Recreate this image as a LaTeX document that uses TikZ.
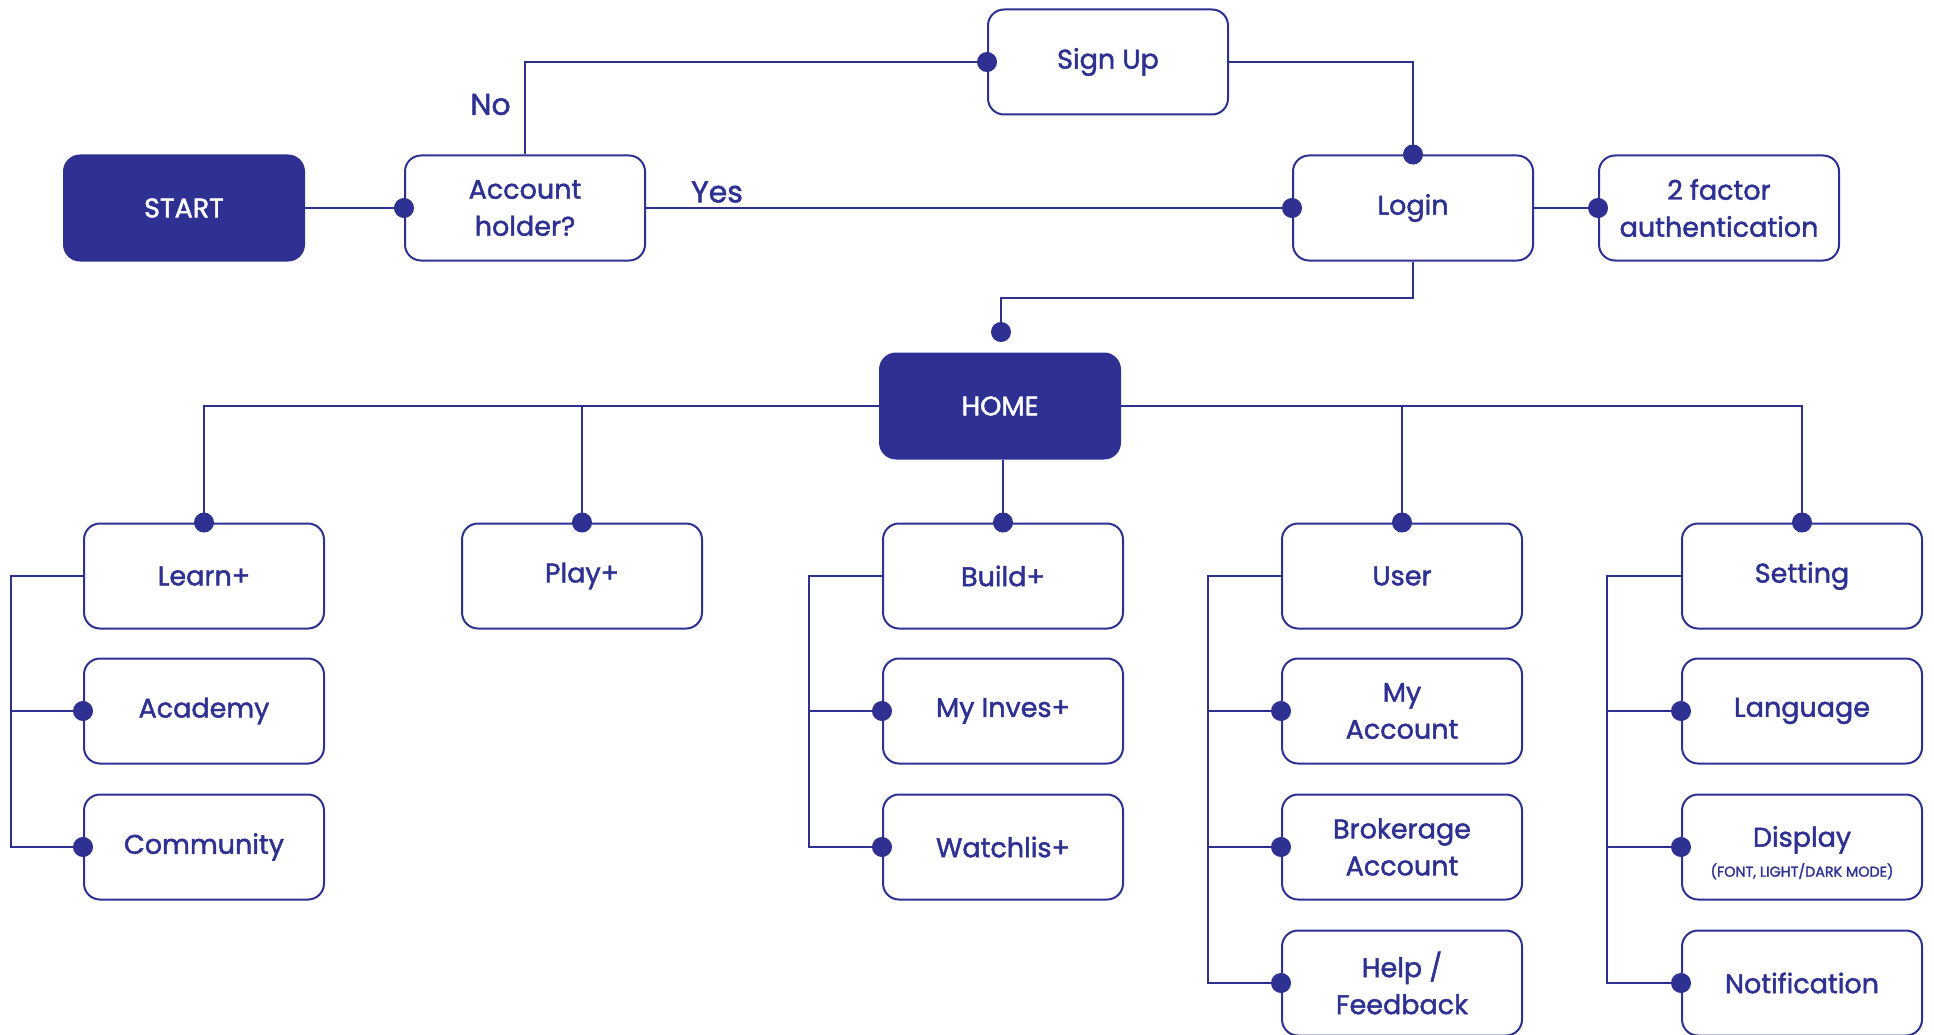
\documentclass[tikz,border=0pt]{standalone}
\usepackage{fontspec}
\setmainfont{Poppins}[BoldFont=Poppins, BoldFeatures={FakeBold=1.6}]
\usetikzlibrary{arrows.meta}
\definecolor{navy}{RGB}{46,49,146}

\begin{document}
\begin{tikzpicture}[
  x=1pt, y=-1pt,
  box/.style={draw=navy, line width=2pt, rounded corners=16pt, fill=white,
    minimum width=240pt, minimum height=105pt, text=navy, align=center,
    font=\fontsize{27}{37}\selectfont\bfseries},
  mainbox/.style={box, fill=navy, text=white},
  wire/.style={draw=navy, line width=2pt},
  link/.style={wire, -{Circle[length=20pt]}, shorten >=-10pt},
  tag/.style={text=navy, font=\fontsize{30}{34}\selectfont\bfseries}
]
\useasboundingbox (0,0) rectangle (1934,1035);

% Entry and login flow
\node[mainbox] (start) at (184,208) {START};
\node[box] (acct) at (525,208) {Account\\holder?};
\node[box] (signup) at (1108,62) {Sign Up};
\node[box] (login) at (1413,208) {Login};
\node[box] (tfa) at (1719,208) {2 factor\\authentication};
\node[mainbox] (home) at (1000,406) {HOME};
\coordinate (homein) at (1001,332);

% Main sections
\node[box] (learn) at (204,576) {Learn+};
\node[box] (play) at (582,576) {Play+};
\node[box] (build) at (1003,576) {Build+};
\node[box] (user) at (1402,576) {User};
\node[box] (setting) at (1802,576) {Setting};

% Sub pages
\node[box] (academy) at (204,711) {Academy};
\node[box] (community) at (204,847) {Community};
\node[box] (inves) at (1003,711) {My Inves+};
\node[box] (watch) at (1003,847) {Watchlis+};
\node[box] (myacc) at (1402,711) {My\\Account};
\node[box] (broker) at (1402,847) {Brokerage\\Account};
\node[box] (help) at (1402,983) {Help /\\Feedback};
\node[box] (lang) at (1802,711) {Language};
\node[box] (disp) at (1802,847)
  {\rule{0pt}{32pt}Display\\[-7pt]{\fontsize{14.3}{15}\selectfont (FONT, LIGHT/DARK MODE)}};
\node[box] (notif) at (1802,983) {Notification};

% Login flow connectors
\draw[link] (start.east) -- (acct.west);
\draw[link] (acct.north) |- node[tag, pos=0.27, left=10pt] {No} (signup.west);
\draw[link] (acct.east) -- node[tag, pos=0.11, above=1pt] {Yes} (login.west);
\draw[link] (signup.east) -| (login.north);
\draw[link] (login.east) -- (tfa.west);
\draw[link] (login.south) -- (login.south |- 0,298) -| (homein);

% HOME to sections
\draw[link] (home.west) -| (learn.north);
\draw[link] (home.west) -| (play.north);
\draw[link] (build.north |- home.south) -- (build.north);
\draw[link] (home.east) -| (user.north);
\draw[link] (home.east) -| (setting.north);

% Section buses
\draw[link] (learn.west) -- ++(-72,0) coordinate (lb) |- (community.west);
\draw[link] (lb) |- (academy.west);
\draw[link] (build.west) -- ++(-73,0) coordinate (bb) |- (watch.west);
\draw[link] (bb) |- (inves.west);
\draw[link] (user.west) -- ++(-73,0) coordinate (ub) |- (help.west);
\draw[link] (ub) |- (myacc.west);
\draw[link] (ub) |- (broker.west);
\draw[link] (setting.west) -- ++(-74,0) coordinate (sb) |- (notif.west);
\draw[link] (sb) |- (lang.west);
\draw[link] (sb) |- (disp.west);
\end{tikzpicture}
\end{document}
